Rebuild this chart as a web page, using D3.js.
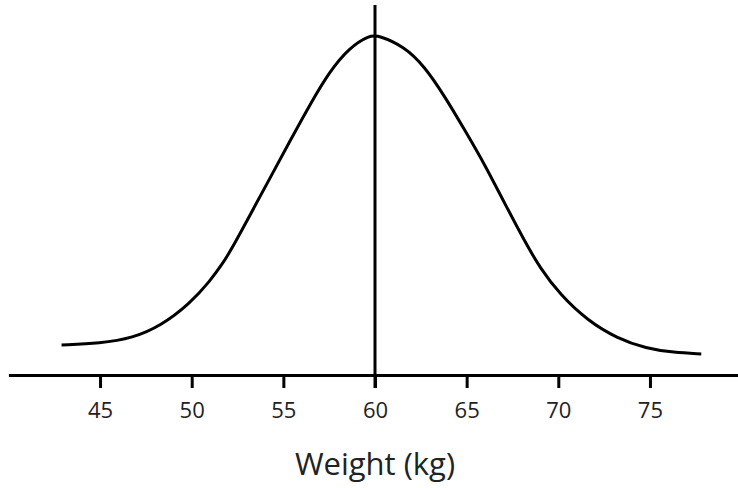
<!DOCTYPE html>
<html>
<head>
<meta charset="utf-8">
<script src="https://cdn.jsdelivr.net/npm/d3@7"></script>
<style>
  body { margin: 0; background: #fff; }
  svg { display: block; }
</style>
</head>
<body>
<div id="chart"></div>
<script>
// weight (kg) along the curve, and relative height of the curve (0-100)
const weights = [42.9, 45, 46.8, 48.3, 49.9, 51.0, 51.7, 52.1, 53.2, 54.3, 55.4, 56.5, 57.5, 58.6, 59.7,
                 60.2, 61.6, 62.7, 63.8, 64.9, 66.0, 67.1, 68.2, 69.0, 70.1, 71.6, 73.2, 74.8, 76.3, 77.8];
const heights = [8.8, 9.3, 10.9, 14.4, 21.0, 27.6, 32.9, 36.3, 47.2, 58.2, 69.2, 80.0, 89.1, 96.3, 99.9,
                 99.9, 96.6, 90.8, 82.0, 72.0, 61.8, 50.2, 39.0, 31.5, 23.6, 16.0, 10.8, 7.8, 6.6, 6.2];
const tickValues = [45, 50, 55, 60, 65, 70, 75];
const meanWeight = 60;
const axisTitle = "Weight (kg)";

const width = 738, height = 488;
const axisY = 375;

const svg = d3.select("#chart")
  .append("svg")
  .attr("width", width)
  .attr("height", height);

svg.append("rect").attr("width", width).attr("height", height).attr("fill", "#fff");

const x = d3.scaleLinear()
  .domain([40, 80])
  .range([375 - 20 * 18.33, 375 + 20 * 18.33]);

const y = d3.scaleLinear()
  .domain([0, 100])
  .range([axisY, 35]);

// curve
const line = d3.line()
  .x(d => x(d[0]))
  .y(d => y(d[1]))
  .curve(d3.curveBasis);

svg.append("path")
  .datum(d3.zip(weights, heights))
  .attr("d", line)
  .attr("fill", "none")
  .attr("stroke", "#000")
  .attr("stroke-width", 3);

// x axis
const axis = svg.append("g")
  .attr("transform", `translate(0,${axisY})`)
  .call(d3.axisBottom(x).tickValues(tickValues).tickSize(13).tickSizeOuter(0).tickPadding(14));

axis.select(".domain").attr("stroke", "#000").attr("stroke-width", 3);
axis.selectAll(".tick line").attr("stroke", "#000").attr("stroke-width", 3);
axis.selectAll(".tick text")
  .attr("fill", "#222")
  .style("font-family", "'Open Sans', sans-serif")
  .style("font-size", "22px");

// vertical line at the mean
svg.append("line")
  .attr("x1", x(meanWeight)).attr("x2", x(meanWeight))
  .attr("y1", 5).attr("y2", axisY + 13)
  .attr("stroke", "#000")
  .attr("stroke-width", 3);

// axis title
svg.append("text")
  .attr("x", x(meanWeight))
  .attr("y", 475)
  .attr("text-anchor", "middle")
  .attr("fill", "#222")
  .style("font-family", "'Open Sans', sans-serif")
  .style("font-size", "31px")
  .text(axisTitle);
</script>
</body>
</html>
